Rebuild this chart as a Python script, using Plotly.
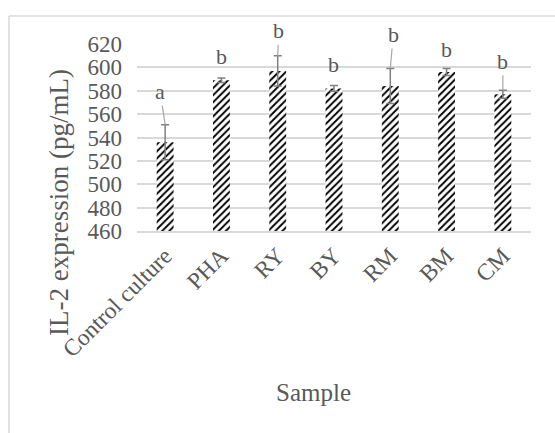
import plotly.graph_objects as go

categories = ["Control culture", "PHA", "RY", "BY", "RM", "BM", "CM"]
values = [536, 589, 597, 582, 584, 596, 577]
errors = [15, 2, 13, 2.5, 15, 3, 3.5]
letters = ["a", "b", "b", "b", "b", "b", "b"]
label_dx = [-5, 0, 1, -1, 3, 0, 0]
label_dy = [-33, -21, -25, -21, -34, -19, -29]
has_leader = [True, False, True, False, True, False, True]

FONT = "Liberation Serif"
GRAY = "#595959"

fig = go.Figure()
fig.add_trace(go.Bar(
    x=categories, y=values,
    marker=dict(color="white",
                pattern=dict(shape="/", fgcolor="black", bgcolor="white", size=5, solidity=0.38,
                             fgopacity=1),
                line=dict(width=0)),
    error_y=dict(type="data", array=errors, color="#808080", thickness=1.5, width=4),
    width=0.3,
))

for c, v, e, t, dx, dy, ld in zip(categories, values, errors, letters, label_dx, label_dy, has_leader):
    fig.add_annotation(x=c, y=v + e, text=t, showarrow=True, arrowhead=0,
                       arrowwidth=1.2, arrowcolor="#a6a6a6" if ld else "rgba(0,0,0,0)",
                       ax=dx, ay=dy, standoff=0,
                       font=dict(family=FONT, size=22, color=GRAY))

# axis titles (placed as in the original chart, not centred on the plot)
fig.add_annotation(text="IL-2 expression (pg/mL)", xref="paper", yref="paper",
                   x=-0.198, y=0.155, textangle=-90, showarrow=False,
                   xanchor="center", yanchor="middle",
                   font=dict(family=FONT, size=27, color=GRAY))
fig.add_annotation(text="Sample", xref="paper", yref="paper",
                   x=0.449, y=-0.866, showarrow=False,
                   xanchor="center", yanchor="middle",
                   font=dict(family=FONT, size=25, color=GRAY))

# chart frame
fig.add_shape(type="line", xref="paper", yref="paper", x0=-0.325, x1=-0.325, y0=-2.0, y1=1.15,
              line=dict(color="#d9d9d9", width=1.5))
fig.add_shape(type="line", xref="paper", yref="paper", x0=-0.325, x1=1.2, y0=1.15, y1=1.15,
              line=dict(color="#d9d9d9", width=1.5))

fig.update_layout(
    width=555, height=433,
    margin=dict(l=137, r=24, t=44, b=202, autoexpand=False),
    paper_bgcolor="white", plot_bgcolor="white",
    showlegend=False,
    font=dict(family=FONT, color=GRAY),
    xaxis=dict(tickangle=-45, tickfont=dict(size=23.5, family=FONT, color=GRAY),
               showline=True, linecolor="#d9d9d9", linewidth=1.5, ticks="",
               automargin=False),
    yaxis=dict(range=[460, 620], dtick=20, tickfont=dict(size=23, family=FONT, color=GRAY),
               showgrid=True, gridcolor="#d9d9d9", gridwidth=1.5, zeroline=False, ticks="",
               ticklabelstandoff=14, automargin=False),
)

fig.write_html("out.html", config={"displayModeBar": False},
               post_script="document.body.style.margin='0';")
